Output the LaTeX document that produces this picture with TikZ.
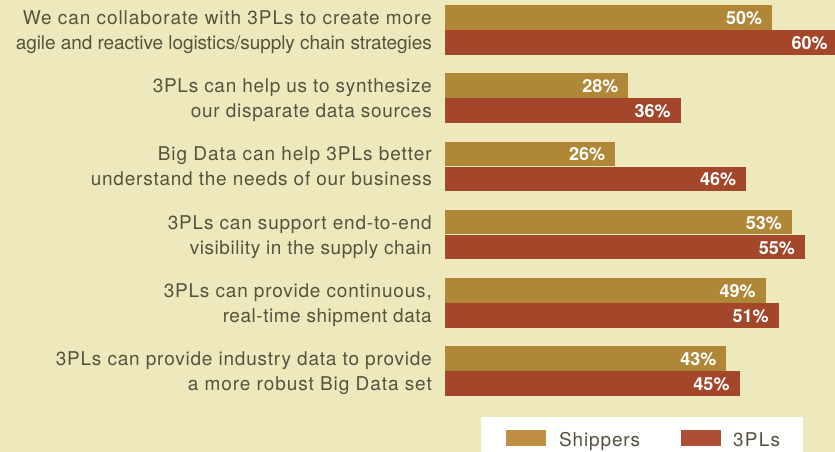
\documentclass[tikz,border=0pt]{standalone}
\usepackage{fontspec}
\setmainfont{TeX Gyre Heros}
\definecolor{bg}{HTML}{EDE9BC}
\definecolor{ship}{HTML}{B08737}
\definecolor{tpl}{HTML}{A4462A}
\definecolor{shipleg}{HTML}{BE8F42}
\definecolor{tplleg}{HTML}{AE4E35}
\definecolor{txt}{HTML}{57523F}
\newlength\fitwa
\newlength\fitwb
\newcommand\fitline[2]{%
  \settowidth\fitwa{\fontsize{19}{21}\selectfont\fontspec{TeX Gyre Heros}[LetterSpace=0]#2}%
  \settowidth\fitwb{\fontsize{19}{21}\selectfont\fontspec{TeX Gyre Heros}[LetterSpace=10]#2}%
  \pgfmathsetmacro\fitls{10*(#1-\fitwa)/(\fitwb-\fitwa)}%
  {\fontsize{19}{21}\selectfont\fontspec{TeX Gyre Heros}[LetterSpace=\fitls]#2}%
}
\begin{document}
\begin{tikzpicture}[x=1pt,y=-1pt,
  lbl/.style={anchor=base east, inner sep=0pt, text=txt},
  val/.style={anchor=base east, inner sep=0pt, text=white, font=\fontsize{18}{20}\selectfont\bfseries},
  legtxt/.style={anchor=base west, inner sep=0pt, text=txt},
  barbox/.style={draw=none, inner sep=0pt, anchor=north west, minimum height=24.6pt},
  swatch/.style={draw=none, inner sep=0pt, anchor=north west, minimum width=40pt, minimum height=16pt}]
\fill[bg] (0,0) rectangle (835,452);
\useasboundingbox (0,0) rectangle (835,452);
\foreach \i/\s/\p/\wa/\la/\wb/\lb in {
  0/50/60/409/{We can collaborate with 3PLs to create more}/416/{agile and reactive logistics/supply chain strategies},
  1/28/36/279/{3PLs can help us to synthesize}/241/{our disparate data sources},
  2/26/46/274/{Big Data can help 3PLs better}/341/{understand the needs of our business},
  3/53/55/264/{3PLs can support end-to-end}/242/{visibility in the supply chain},
  4/49/51/268/{3PLs can provide continuous,}/209/{real-time shipment data},
  5/43/45/376/{3PLs can provide industry data to provide}/244/{a more robust Big Data set}} {
  \pgfmathsetmacro\top{5+68.2*\i}
  \pgfmathsetmacro\ws{6.54*\s}
  \pgfmathsetmacro\wp{6.54*\p}
  \node[barbox, fill=ship, minimum width=\ws pt] (s\i) at (445,\top) {};
  \node[barbox, fill=tpl, minimum width=\wp pt] (p\i) at (s\i.south west) {};
  \node[val] (vs\i) at ([xshift=-10pt,yshift=-7pt]s\i.east) {\s\%};
  \node[val] (vp\i) at ([xshift=-10pt,yshift=-7pt]p\i.east) {\p\%};
  \node[lbl] (la\i) at ([yshift=-7pt]s\i.west -| 432,0) {\fitline{\wa}{\la}};
  \node[lbl] (lb\i) at ([yshift=-7pt]p\i.west -| 432,0) {\fitline{\wb}{\lb}};
}
\node[fill=white, draw=none, inner sep=0pt, anchor=north west, minimum width=322pt, minimum height=36pt] (leg) at (481,417) {};
\node[swatch, fill=shipleg] (sw1) at (506,430) {};
\node[legtxt] (lt1) at (559,446) {\fitline{81}{Shippers}};
\node[swatch, fill=tplleg] (sw2) at (681,430) {};
\node[legtxt] (lt2) at (733,446) {\fitline{47}{3PLs}};
\end{tikzpicture}
\end{document}
